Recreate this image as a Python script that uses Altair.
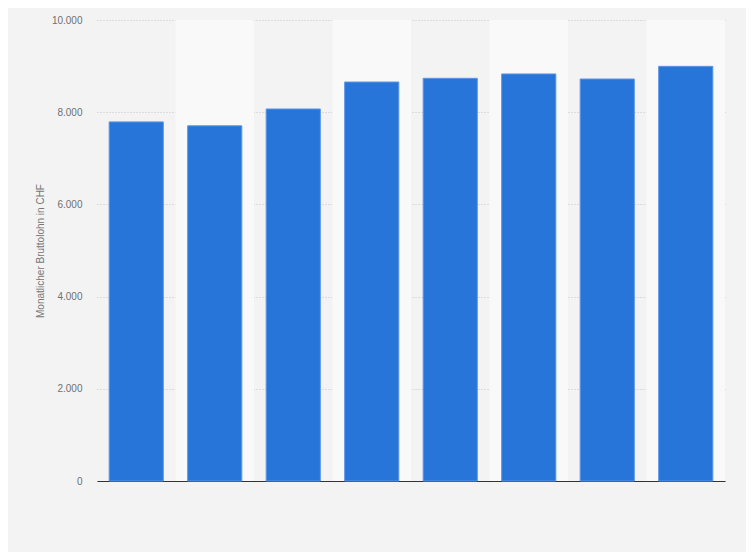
import altair as alt
import pandas as pd

categories = ["2006", "2008", "2010", "2012", "2014", "2016", "2018", "2020"]
values = [7790, 7705, 8070, 8655, 8735, 8830, 8720, 8995]

df = pd.DataFrame({"Jahr": categories, "Lohn": values})
bands = pd.DataFrame({
    "start": list(range(len(categories))),
    "end": [i + 1 for i in range(len(categories))],
    "shade": ["dark" if i % 2 == 0 else "light" for i in range(len(categories))],
})
bands = bands[bands["shade"] == "light"]

W, H = 628, 461

bg = alt.Chart(bands).mark_rect(color="#f9f9f9").encode(
    x=alt.X("start:Q", scale=alt.Scale(domain=[0, len(categories)], nice=False, zero=False), axis=None),
    x2="end:Q",
    y=alt.value(0),
    y2=alt.value(H),
)

bars = alt.Chart(df).mark_bar(color="#2775d9", stroke="#5d97e6", strokeWidth=1).encode(
    x=alt.X("Jahr:N", sort=categories,
            scale=alt.Scale(paddingInner=0.31, paddingOuter=0.155),
            axis=alt.Axis(labels=False, ticks=False, title=None, domain=True,
                          domainColor="#333333", domainWidth=1.2, grid=False)),
    y=alt.Y("Lohn:Q",
            scale=alt.Scale(domain=[0, 10000], nice=False),
            axis=alt.Axis(values=[0, 2000, 4000, 6000, 8000, 10000],
                          labelExpr="replace(format(datum.value, ',.0f'), ',', '.')",
                          title="Monatlicher Bruttolohn in CHF",
                          titleFontSize=10, titleFontWeight="normal", titleColor="#777777",
                          titleFont="Liberation Sans", titlePadding=6,
                          labelFont="Liberation Sans", labelFontSize=10, labelColor="#707070",
                          labelPadding=15, ticks=False, domain=False,
                          grid=True, gridColor="#c4c4c4", gridDash=[1, 2], gridWidth=1)),
)

chart = alt.layer(bg, bars).resolve_scale(x="independent").properties(
    width=W, height=H,
    background="#f3f3f3",
    padding={"left": 89, "top": 12, "right": 21, "bottom": 71},
    autosize=alt.AutoSizeParams(type="none"),
).configure_view(stroke=None, fill="#f3f3f3")

chart.save("out.html", embed_options={"renderer": "svg", "actions": False})
